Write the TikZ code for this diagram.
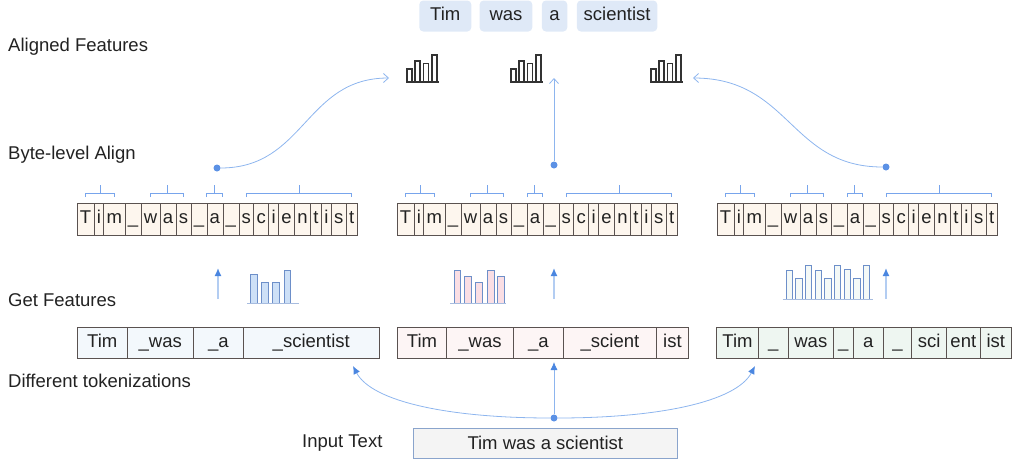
\documentclass[tikz,border=0pt]{standalone}
\usepackage{fontspec}
\setmainfont{Liberation Sans}
\usetikzlibrary{positioning,calc,arrows.meta}

\definecolor{txt}{HTML}{222222}
\definecolor{cellline}{HTML}{5A5250}
\definecolor{bytefill}{HTML}{FDF6EE}
\definecolor{tokfillL}{HTML}{F3F8FC}
\definecolor{tokfillM}{HTML}{FDF5F5}
\definecolor{tokfillR}{HTML}{EEF6F1}
\definecolor{pillblue}{HTML}{DFE9F7}
\definecolor{linkblue}{HTML}{8DB5EE}
\definecolor{dotblue}{HTML}{5B91E5}
\definecolor{brkblue}{HTML}{78A5EC}
\definecolor{tipblue}{HTML}{4A86E0}
\definecolor{uplight}{HTML}{B3CDF2}
\definecolor{barline}{HTML}{6D8FC9}
\definecolor{barfillL}{HTML}{CDE0F7}
\definecolor{barfillM}{HTML}{FADEE4}
\definecolor{barfillR}{HTML}{F4F9F7}
\definecolor{inbox}{HTML}{F4F4F4}
\definecolor{inline}{HTML}{8AA4CC}

% one row of byte cells, #1 name prefix, #2 left edge
\newcommand{\byterow}[2]{%
  \foreach \c [count=\i] in {T,i,m,\_,w,a,s,\_,a,\_,s,c,i,e,n,t,i,s,t}{
    \ifnum\i=1
      \node[bytecell,anchor=west] (#1\i) at (#2,219) {\c};
    \else
      \pgfmathtruncatemacro\j{\i-1}
      \node[bytecell,right=0pt of #1\j] (#1\i) {\c};
    \fi
  }
  \wbrk{#11}{#13}
  \wbrk{#15}{#17}
  \wbrk{#19.west}{#19.east}
  \wbrk{#111}{#119}
}
% bracket over a word
\newcommand{\wbrk}[2]{%
  \draw[brk] ($(#1)+(0,-22)$) -- ($(#1)+(0,-26)$) -- ($(#2)+(0,-26)$) -- ($(#2)+(0,-22)$);
  \draw[brk] ($(#1)!.5!(#2)+(0,-26)$) -- ++(0,-8);
}
% one row of tokens, #1 name prefix, #2 left edge, #3 fill, #4 token/width list
\newcommand{\tokrow}[4]{%
  \foreach \t/\w [count=\i] in {#4}{
    \ifnum\i=1
      \node[tokcell,fill=#3,minimum width=\w,anchor=west] (#1\i) at (#2,343) {\t};
    \else
      \pgfmathtruncatemacro\j{\i-1}
      \node[tokcell,fill=#3,minimum width=\w,right=0pt of #1\j] (#1\i) {\t};
    \fi
  }
}

\begin{document}
\begin{tikzpicture}[x=1pt,y=-1pt,
  every node/.style={font=\fontsize{18.5}{22}\selectfont,text=txt},
  bytecell/.style={draw=cellline,fill=bytefill,line width=0.7pt,inner xsep=2.85pt,inner ysep=7.5pt,
    text height=13pt,text depth=4pt,outer sep=0pt},
  tokcell/.style={draw=cellline,line width=0.7pt,inner xsep=2pt,inner ysep=7pt,
    text height=13pt,text depth=4pt,outer sep=0pt},
  pill/.style={fill=pillblue,rounded corners=4pt,inner xsep=2pt,inner ysep=7pt,
    text height=13pt,text depth=4pt,outer sep=0pt},
  labl/.style={anchor=west,inner sep=0pt},
  brk/.style={draw=brkblue,line width=0.8pt},
  link/.style={draw=linkblue,line width=0.8pt},
  openar/.style={link,-{Straight Barb[length=5pt,width=9pt]}},
  fillar/.style={link,-{Latex[length=8pt,width=7pt,color=tipblue]}},
  upar/.style={draw=uplight,line width=1.5pt,-{Latex[length=8pt,width=7pt,color=tipblue]}},
  dot/.style={circle,fill=dotblue,inner sep=0pt,minimum size=7pt},
  bars/.style={draw=barline,line width=1pt},
  basel/.style={draw=barline!60,line width=1pt},
  featicon/.pic={
    \draw[line width=1.4pt,draw=black!80] (0,0) -- (33,0);
    \foreach \x/\h in {1/13,9/21,17.5/18.5,26/27}
      \draw[line width=1.2pt,draw=black!80] (\x,0) rectangle (\x+5,-\h);
  }]

\useasboundingbox (0,0) rectangle (1013,461);

% labels on the left
\node[labl] (lalign) at (8,47) {Aligned Features};
\node[labl] (lbyte) at (8,155) {Byte-level Align};
\node[labl] (lget) at (8,300) {Get Features};
\node[labl] (ltok) at (8,381) {Different tokenizations};
\node[labl] (lin) at (302,443) {Input Text};

% words on top
\node[pill,minimum width=52,anchor=west] (wTim) at (419.3,16) {Tim};
\node[pill,minimum width=52.7,right=8.3pt of wTim] (wwas) {was};
\node[pill,minimum width=25.4,right=9.6pt of wwas] (wa) {a};
\node[pill,minimum width=80.4,right=9.6pt of wa] (wsci) {scientist};

% aligned features
\pic at (406,82) {featicon};
\pic at (510,82) {featicon};
\pic at (650,82) {featicon};

% byte rows
\byterow{L}{77}
\byterow{M}{397}
\byterow{R}{717}

% byte-level align
\node[dot] (dl) at (217,168) {};
\node[dot] (dm) at (554,165) {};
\node[dot] (dr) at (886,167) {};
\coordinate (fl) at (389,78);
\coordinate (fm) at (554,78);
\coordinate (fr) at (693,78);
\draw[openar] (dl) .. controls (305,168) and (305,78) .. (fl);
\draw[openar] (dm) -- (fm);
\draw[openar] (dr) .. controls (790,167) and (790,78) .. (fr);

% get features
\coordinate (gl0) at (218,299); \coordinate (gl1) at (218,268);
\coordinate (gm0) at (554,299); \coordinate (gm1) at (554,268);
\coordinate (gr0) at (886,299); \coordinate (gr1) at (886,268);
\draw[upar] (gl0) -- (gl1);
\draw[upar] (gm0) -- (gm1);
\draw[upar] (gr0) -- (gr1);

\foreach \x/\t in {250.7/274,261.7/282,272.7/282,284.3/270}
  \draw[bars,fill=barfillL] (\x,303) rectangle (\x+6.6,\t);
\draw[basel] (247,303.5) -- (299,303.5);

\foreach \x/\t in {454/270,464.3/276,475.7/282,487.3/270,497.7/276}
  \draw[bars,fill=barfillM] (\x,303) rectangle (\x+6.8,\t);
\draw[basel] (450,303.5) -- (506,303.5);

\foreach \x/\t in {786/270,795.3/278.3,805/265.7,815/270,824.7/278.3,834/265.7,844/269.3,853.7/278.3,863/265.7}
  \draw[bars,fill=barfillR] (\x,299.3) rectangle (\x+6.7,\t);
\draw[basel] (782.7,299.5) -- (873.3,299.5);

% tokenizations
\tokrow{TL}{77.3}{tokfillL}{Tim/50,\_was/66,\_a/50,\_scientist/136}
\tokrow{TM}{397.3}{tokfillM}{Tim/49.4,\_was/66.6,\_a/50,\_scient/93.4,ist/31.5}
\tokrow{TR}{716.7}{tokfillR}{Tim/41.6,\_/30,was/45,\_/20,a/30,\_/28.4,sci/35,ent/33.3,ist/31.5}

% input text
\node[draw=inline,fill=inbox,line width=0.8pt,minimum width=264,minimum height=30,inner sep=0pt] (input) at (545.3,443.3) {Tim was a scientist};
\node[dot] (db) at (554,418) {};
\coordinate (tl) at (353,366);
\coordinate (tm) at (554,362);
\coordinate (tr) at (755,366);
\draw[fillar] (db) .. controls (450,418) and (372,402) .. (tl);
\draw[fillar] (db) -- (tm);
\draw[fillar] (db) .. controls (658,418) and (736,402) .. (tr);

\end{tikzpicture}
\end{document}
